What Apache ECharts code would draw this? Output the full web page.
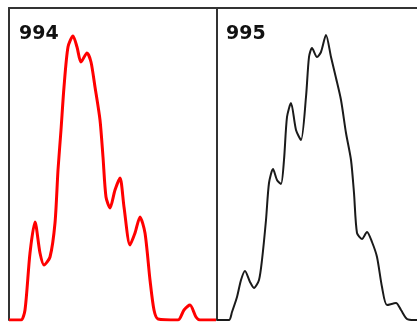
<!DOCTYPE html>
<html>
<head>
<meta charset="utf-8">
<script src="https://cdn.jsdelivr.net/npm/echarts@6/dist/echarts.min.js"></script>
<style>
  html, body { margin: 0; padding: 0; background: #ffffff; }
  #chart { width: 417px; height: 322px; }
</style>
</head>
<body>
<div id="chart"></div>
<script>
// Histogram 994 (left panel)
const channels994 = [0, 12, 16, 21, 26, 31, 35, 41, 46, 49, 52, 55, 59, 64, 68, 72, 78, 82, 86, 91, 94, 97, 101, 106, 111, 115, 121, 126, 131, 136, 141, 145, 149, 169, 175, 181, 187, 191, 207];
const counts994   = [0, 0, 10, 67, 98, 67, 55, 63, 97, 150, 190, 233, 273, 284, 273, 258, 267, 258, 233, 200, 163, 123, 112, 130, 142, 113, 75, 87, 103, 87, 40, 10, 1, 0, 10, 15, 3, 0, 0];

// Histogram 995 (right panel)
const channels995 = [0, 12, 15, 20, 24, 28, 33, 37, 42, 45, 49, 52, 56, 60, 64, 67, 70, 74, 79, 84, 89, 92, 95, 100, 104, 109, 114, 119, 124, 129, 134, 137, 140, 145, 150, 155, 160, 165, 170, 179, 184, 190, 197, 200];
const counts995   = [0, 0, 8, 23, 40, 49, 38, 32, 40, 60, 100, 137, 151, 140, 136, 160, 203, 217, 190, 180, 223, 263, 272, 263, 268, 285, 263, 242, 220, 187, 160, 127, 87, 81, 88, 78, 63, 33, 15, 17, 10, 1, 0, 0];

const panelTitles = ['994', '995'];

const pairs = (xs, ys) => xs.map((x, i) => [x, ys[i]]);

const frame = { show: true, onZero: false, lineStyle: { color: '#333333', width: 2 } };
const hidden = { axisTick: { show: false }, axisLabel: { show: false }, splitLine: { show: false } };

const chart = echarts.init(document.getElementById('chart'), null, { renderer: 'canvas' });
chart.setOption({
  backgroundColor: '#ffffff',
  animation: false,
  grid: [
    { left: 9, top: 8, width: 207, height: 312 },
    { left: 217, top: 8, width: 200, height: 312 }
  ],
  xAxis: [
    Object.assign({ type: 'value', gridIndex: 0, min: 0, max: 207, position: 'top', axisLine: frame }, hidden),
    Object.assign({ type: 'value', gridIndex: 1, min: 0, max: 200, position: 'top', axisLine: frame }, hidden)
  ],
  yAxis: [
    Object.assign({ type: 'value', gridIndex: 0, min: 0, max: 312, position: 'left', axisLine: frame }, hidden),
    Object.assign({ type: 'value', gridIndex: 1, min: 0, max: 312, position: 'left', axisLine: frame }, hidden)
  ],
  series: [
    { type: 'line', xAxisIndex: 0, yAxisIndex: 0, data: pairs(channels994, counts994),
      smooth: 0.25, showSymbol: false, lineStyle: { color: '#ff0000', width: 3 } },
    { type: 'line', xAxisIndex: 1, yAxisIndex: 1, data: pairs(channels995, counts995),
      smooth: 0.25, showSymbol: false, lineStyle: { color: '#1a1a1a', width: 2 } }
  ],
  graphic: [
    { type: 'text', left: 19, top: 25,
      style: { text: panelTitles[0], fill: '#111111', font: 'bold 19px "DejaVu Sans"' } },
    { type: 'text', left: 226, top: 25,
      style: { text: panelTitles[1], fill: '#111111', font: 'bold 19px "DejaVu Sans"' } }
  ]
});
</script>
</body>
</html>
